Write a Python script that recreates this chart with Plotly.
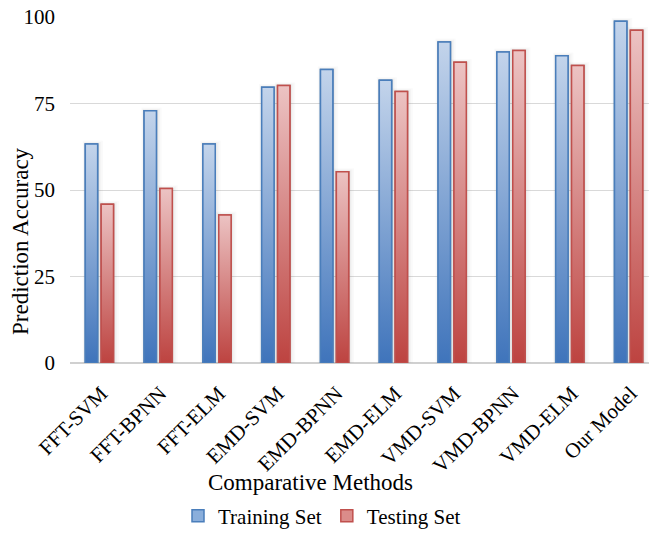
import plotly.graph_objects as go

methods = ["FFT-SVM", "FFT-BPNN", "FFT-ELM", "EMD-SVM", "EMD-BPNN",
           "EMD-ELM", "VMD-SVM", "VMD-BPNN", "VMD-ELM", "Our Model"]
training = [63.3, 72.9, 63.3, 79.7, 84.8, 81.7, 92.8, 89.9, 88.8, 98.8]
testing = [45.9, 50.4, 42.8, 80.2, 55.3, 78.5, 86.9, 90.3, 86.0, 96.2]
y_ticks = [0, 25, 50, 75, 100]

W, H = 649, 533
ML, MR, MT, MB = 70, 0, 17, 170
FONT = "Liberation Serif, Times New Roman, serif"

series = [
    dict(name="Training Set", vals=training, off=-0.24, w=0.21,
         line="#4a7ebb", light="#c3d4eb", dark="#3f74bb", mid="#8aaedb"),
    dict(name="Testing Set", vals=testing, off=0.03, w=0.21,
         line="#c0504d", light="#ecc3c3", dark="#bd4340", mid="#db8c8a"),
]

fig = go.Figure()
idx = list(range(len(methods)))

# plain bars carry the legend entries
for s in series:
    fig.add_trace(go.Bar(
        x=idx, y=s["vals"], name=s["name"], offset=s["off"], width=s["w"],
        marker=dict(color=s["mid"], line=dict(color=s["line"], width=1.5)),
        hoverinfo="skip"))

# soft shadow and gradient fill for each bar
for s in series:
    for i, v in zip(idx, s["vals"]):
        x0 = i + s["off"]
        x1 = x0 + s["w"]
        for pad, alpha in [(0.09, 0.03), (0.06, 0.04), (0.035, 0.06), (0.015, 0.08)]:
            fig.add_trace(go.Scatter(
                x=[x0 - pad * 0.5, x0 - pad * 0.5, x1 + pad, x1 + pad, x0 - pad * 0.5],
                y=[0, v + pad * 10, v + pad * 10, 0, 0],
                mode="lines", fill="toself", line=dict(width=0),
                fillcolor=f"rgba(110,110,110,{alpha})",
                showlegend=False, hoverinfo="skip"))
        fig.add_trace(go.Scatter(
            x=[x0, x0, x1, x1, x0], y=[0, v, v, 0, 0],
            mode="lines", fill="toself",
            line=dict(color=s["line"], width=1.5),
            fillgradient=dict(type="vertical",
                              colorscale=[[0, s["dark"]], [1, s["light"]]]),
            showlegend=False, hoverinfo="skip"))

px_per_unit = 58.8
x_hi = -0.5 + (W - ML - MR) / px_per_unit
plot_h = H - MT - MB

fig.update_layout(
    width=W, height=H,
    margin=dict(l=ML, r=MR, t=MT, b=MB, autoexpand=False),
    paper_bgcolor="white", plot_bgcolor="white",
    font=dict(family=FONT, color="#000000", size=21),
    showlegend=True,
    legend=dict(orientation="h", x=(322 - ML) / (W - ML - MR), xanchor="center",
                y=(H - MB - 516) / plot_h, yanchor="middle",
                font=dict(size=21, family=FONT), tracegroupgap=0,
                itemwidth=30, traceorder="normal"),
    xaxis=dict(range=[-0.5, x_hi], tickmode="array", tickvals=idx,
               ticktext=methods, tickangle=-45, showgrid=False,
               zeroline=False, showline=False, ticks="", automargin=False,
               ticklabelstandoff=13, ticklabelshift=2,
               tickfont=dict(size=21, family=FONT)),
    yaxis=dict(range=[0, 100], tickvals=y_ticks, showgrid=True,
               gridcolor="#d9d9d9", gridwidth=1.2, zeroline=True,
               zerolinecolor="#d0d0d0", zerolinewidth=2, showline=False,
               ticks="", ticklabelstandoff=14, automargin=False,
               tickfont=dict(size=21, family=FONT)),
    annotations=[
        dict(text="Comparative Methods", xref="paper", yref="paper",
             x=(310 - ML) / (W - ML - MR), y=(H - MB - 482) / plot_h,
             xanchor="center", yanchor="middle", showarrow=False,
             font=dict(size=23, family=FONT)),
        dict(text="Prediction Accuracy", xref="paper", yref="paper",
             x=(20 - ML) / (W - ML - MR), y=(H - MB - 241) / plot_h,
             xanchor="center", yanchor="middle", textangle=-90,
             showarrow=False, font=dict(size=23, family=FONT)),
    ],
)

fig.write_html("out.html")
